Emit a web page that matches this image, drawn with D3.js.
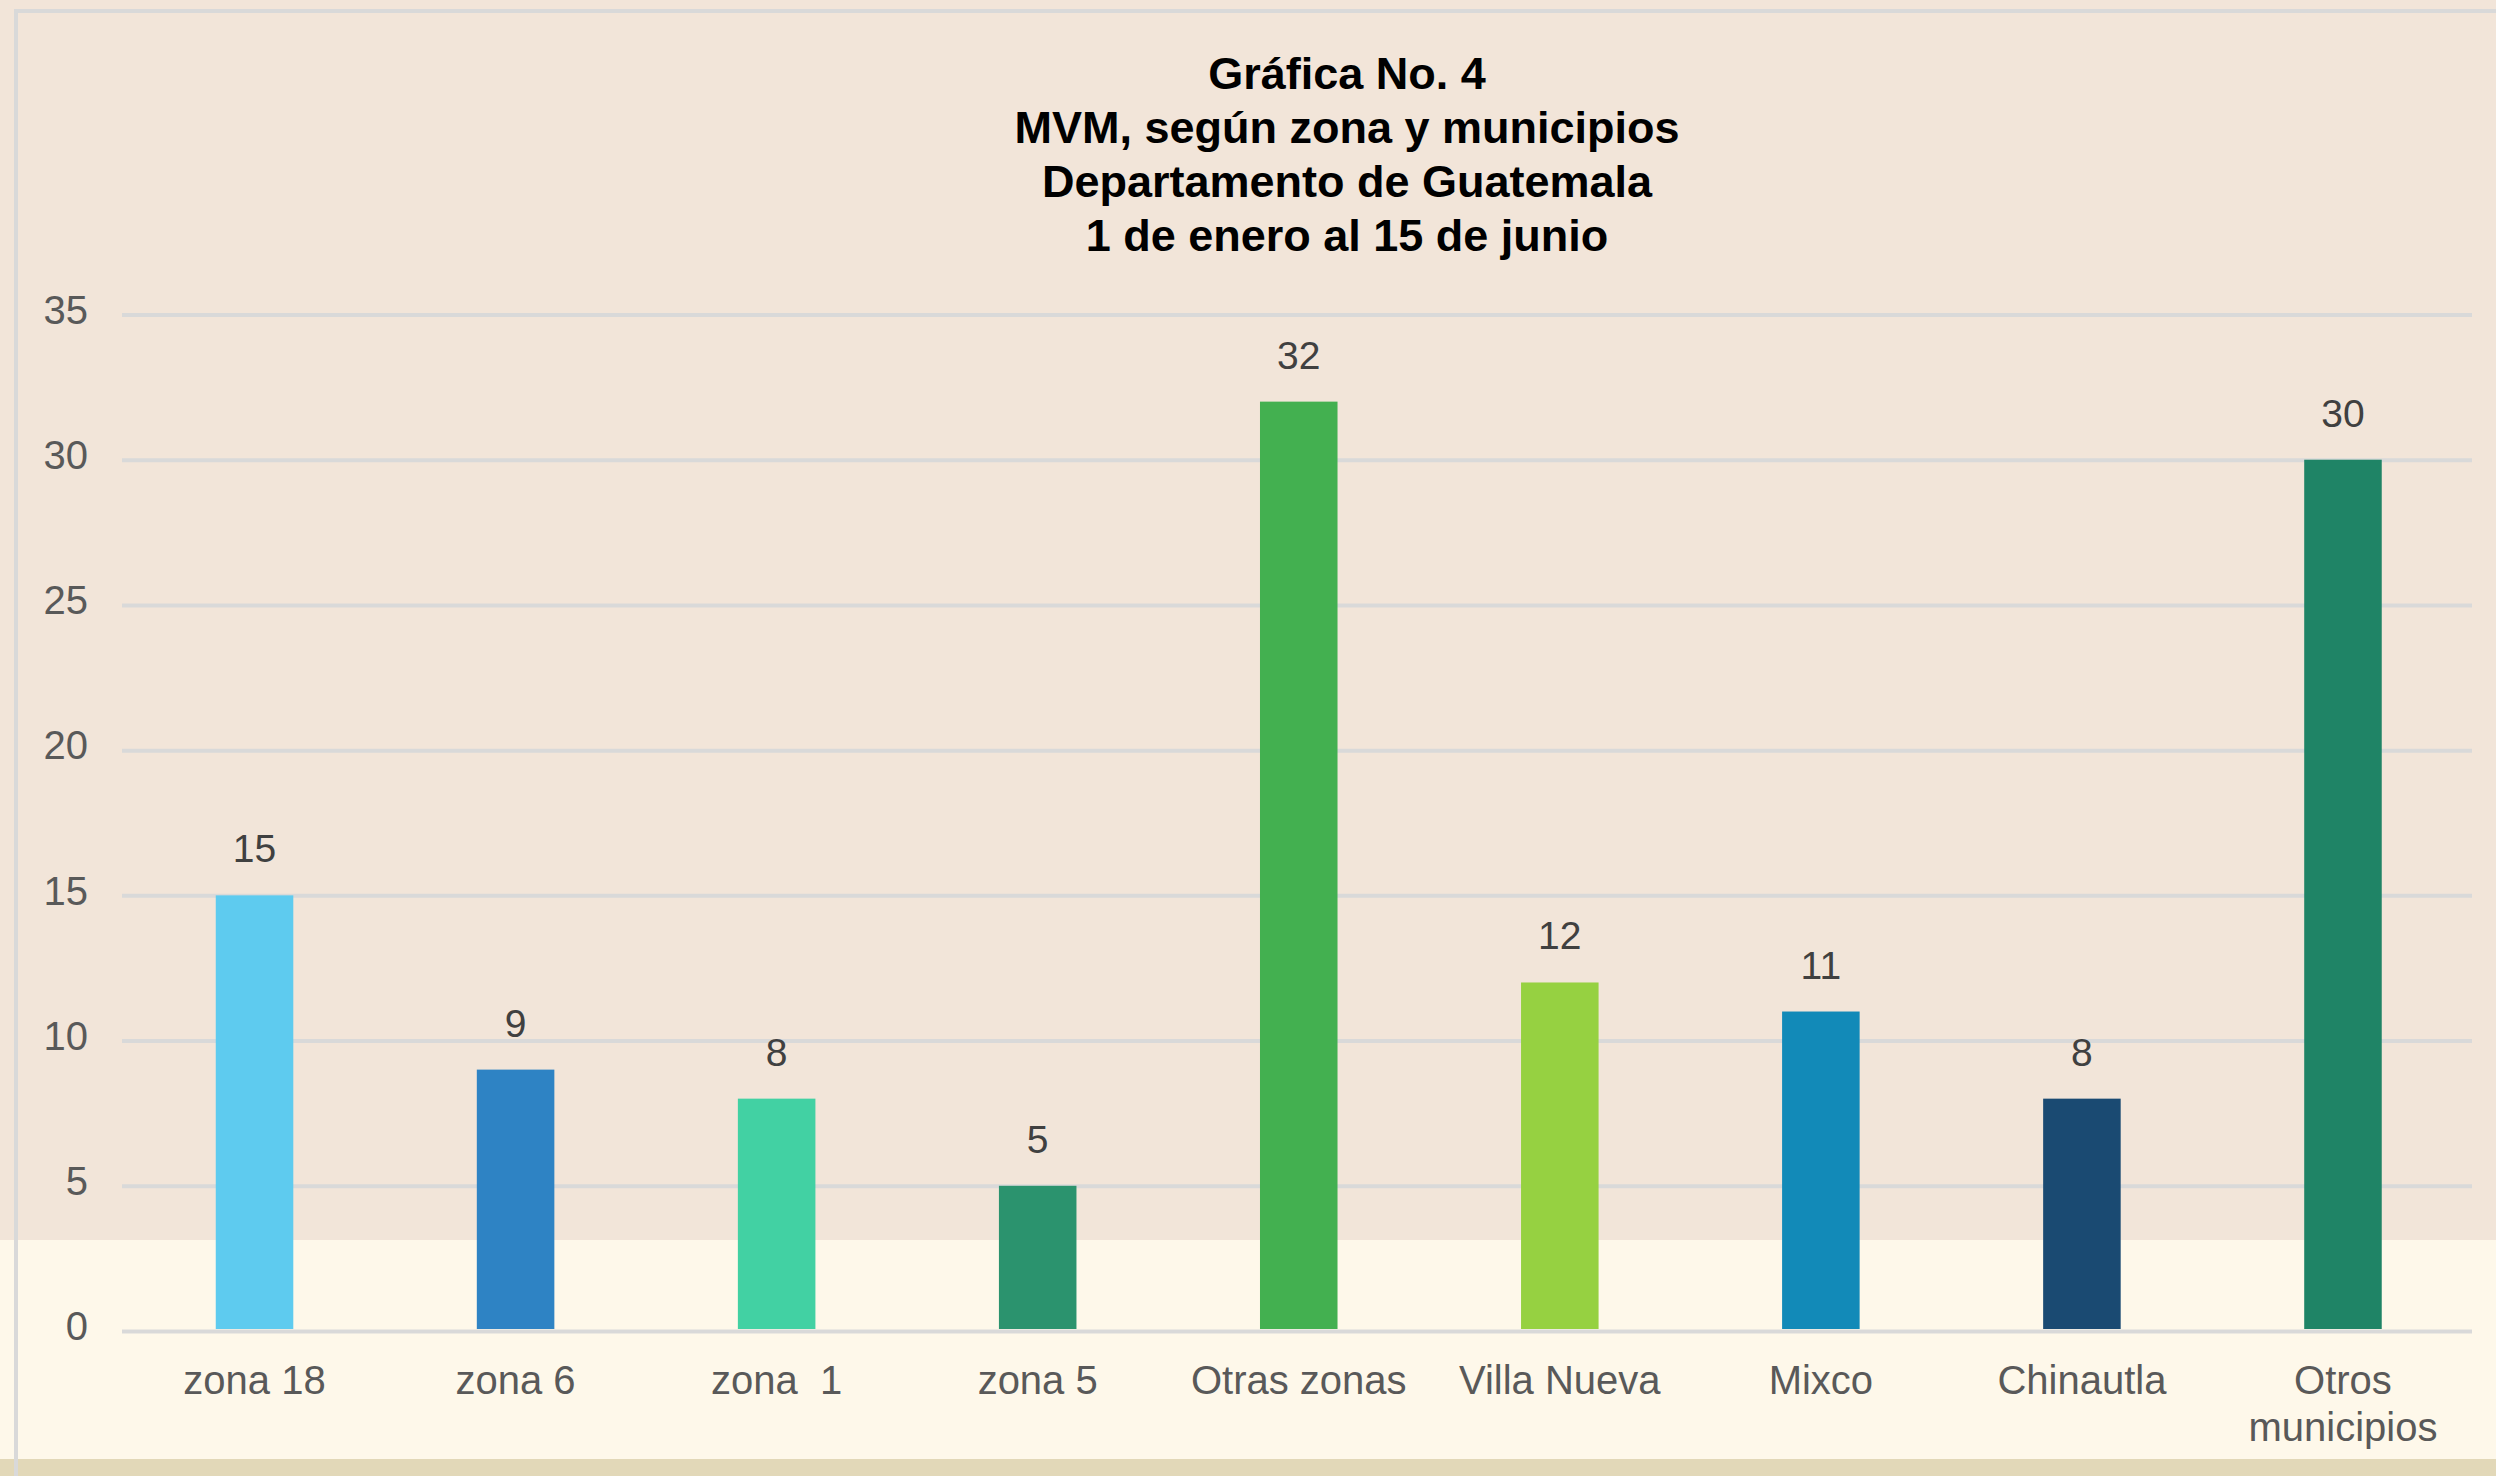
<!DOCTYPE html>
<html>
<head>
<meta charset="utf-8">
<script src="https://cdn.jsdelivr.net/npm/d3@7"></script>
<style>
  body { margin: 0; background: #f2e5d9; }
  svg { display: block; }
  text { font-family: "Liberation Sans", Arial, sans-serif; }
</style>
</head>
<body>
<div id="chart"></div>
<script>
const w = 2496, h = 1476

// data
const categories = ["zona 18", "zona 6", "zona  1", "zona 5", "Otras zonas", "Villa Nueva", "Mixco", "Chinautla", "Otros\nmunicipios"]
const values = [15, 9, 8, 5, 32, 12, 11, 8, 30]
const barColors = ["#5ecbef", "#2e83c4", "#42d1a3", "#2b936e", "#43b050", "#96d141", "#128ab8", "#1a4a72", "#1f8466"]
const yTicks = [0, 5, 10, 15, 20, 25, 30, 35]
const titleLines = ["Gráfica No. 4", "MVM, según zona y municipios", "Departamento de Guatemala", "1 de enero al 15 de junio"]

//scales
const x = d3.scaleBand()
    .domain(categories)
    .range([124, 2473.5])
    .paddingInner(0.703)
    .paddingOuter(0.3515)

const y = d3.scaleLinear()
    .domain([0, 35])
    .range([1331, 314.5])

const svg = d3.select("#chart").append("svg")
    .attr("width", w)
    .attr("height", h)

// background bands
svg.append("rect").attr("x", 0).attr("y", 0).attr("width", w).attr("height", h).attr("fill", "#f2e5d9")
svg.append("rect").attr("x", 0).attr("y", 1240).attr("width", w).attr("height", 219).attr("fill", "#fef8ea")
svg.append("rect").attr("x", 0).attr("y", 1459).attr("width", w).attr("height", h - 1459).attr("fill", "#e2d8b8")

// frame lines (top and left)
svg.append("line").attr("x1", 14).attr("x2", w).attr("y1", 11).attr("y2", 11)
    .attr("stroke", "#d9d9d9").attr("stroke-width", 4)
svg.append("line").attr("x1", 16).attr("x2", 16).attr("y1", 9).attr("y2", h)
    .attr("stroke", "#d9d9d9").attr("stroke-width", 4)

// y axis + gridlines
const yAxis = svg.append("g")
    .attr("transform", "translate(122,0)")
    .call(d3.axisLeft(y).tickValues(yTicks).tickSize(-(2472 - 122)).tickPadding(34))

yAxis.select(".domain").remove()
yAxis.selectAll(".tick line").attr("stroke", "#d9d9d9").attr("stroke-width", 4)
yAxis.selectAll(".tick text")
    .attr("fill", "#595959")
    .attr("font-size", 40)
    .attr("font-family", "Liberation Sans, Arial, sans-serif")
    .attr("dy", "0.22em")

// bars
svg.selectAll("rect.bar")
    .data(values)
    .enter()
    .append("rect")
    .attr("class", "bar")
    .attr("x", (d, i) => x(categories[i]))
    .attr("y", d => y(d))
    .attr("width", x.bandwidth())
    .attr("height", d => y(0) - 2 - y(d))
    .attr("fill", (d, i) => barColors[i])

// value labels
svg.selectAll("text.value")
    .data(values)
    .enter()
    .append("text")
    .attr("class", "value")
    .attr("x", (d, i) => x(categories[i]) + x.bandwidth() / 2)
    .attr("y", d => y(d) - 33)
    .attr("text-anchor", "middle")
    .attr("font-size", 39)
    .attr("fill", "#404040")
    .text(d => d)

// category labels
const catLabels = svg.selectAll("text.cat")
    .data(categories)
    .enter()
    .append("text")
    .attr("class", "cat")
    .attr("x", d => x(d) + x.bandwidth() / 2)
    .attr("y", 1394)
    .attr("text-anchor", "middle")
    .attr("font-size", 40)
    .attr("fill", "#595959")
    .style("white-space", "pre")

catLabels.each(function (d) {
    const t = d3.select(this)
    const cx = t.attr("x")
    d.split("\n").forEach((line, i) => {
        t.append("tspan").attr("x", cx).attr("dy", i === 0 ? 0 : 47).text(line)
    })
})

// title
svg.append("text")
    .attr("text-anchor", "middle")
    .attr("font-size", 45)
    .attr("font-weight", "bold")
    .attr("fill", "#000")
    .selectAll("tspan")
    .data(titleLines)
    .enter()
    .append("tspan")
    .attr("x", 1347)
    .attr("y", (d, i) => 89 + i * 54)
    .text(d => d)
</script>
</body>
</html>
